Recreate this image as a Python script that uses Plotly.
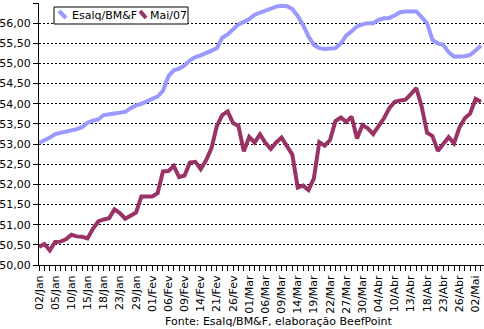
import plotly.graph_objects as go

# Trading days (BM&F) from 02/Jan to 03/Mai 2007
dates = [
    "02/Jan", "03/Jan", "04/Jan", "05/Jan", "08/Jan", "09/Jan", "10/Jan", "11/Jan", "12/Jan",
    "15/Jan", "16/Jan", "17/Jan", "18/Jan", "19/Jan", "22/Jan", "23/Jan", "24/Jan", "26/Jan",
    "29/Jan", "30/Jan", "31/Jan",
    "01/Fev", "02/Fev", "05/Fev", "06/Fev", "07/Fev", "08/Fev", "09/Fev", "12/Fev", "13/Fev",
    "14/Fev", "15/Fev", "16/Fev", "21/Fev", "22/Fev", "23/Fev", "26/Fev", "27/Fev", "28/Fev",
    "01/Mar", "02/Mar", "05/Mar", "06/Mar", "07/Mar", "08/Mar", "09/Mar", "12/Mar", "13/Mar",
    "14/Mar", "15/Mar", "16/Mar", "19/Mar", "20/Mar", "21/Mar", "22/Mar", "23/Mar", "26/Mar",
    "27/Mar", "28/Mar", "29/Mar", "30/Mar",
    "02/Abr", "03/Abr", "04/Abr", "05/Abr", "09/Abr", "10/Abr", "11/Abr", "12/Abr", "13/Abr",
    "16/Abr", "17/Abr", "18/Abr", "19/Abr", "20/Abr", "23/Abr", "24/Abr", "25/Abr", "26/Abr",
    "27/Abr", "30/Abr",
    "02/Mai", "03/Mai",
]

# Indicador Esalq/BM&F (R$/@)
esalq = [
    53.03, 53.09, 53.16, 53.25, 53.28, 53.30, 53.32, 53.37, 53.42, 53.53,
    53.58, 53.61, 53.72, 53.75, 53.76, 53.78, 53.80, 53.89, 53.96, 54.00,
    54.05, 54.12, 54.18, 54.32, 54.68, 54.83, 54.87, 54.95, 55.08, 55.16,
    55.20, 55.27, 55.32, 55.38, 55.64, 55.72, 55.85, 55.97, 56.03, 56.10,
    56.21, 56.26, 56.32, 56.37, 56.41, 56.43, 56.42, 56.35, 56.18, 55.95,
    55.67, 55.46, 55.38, 55.36, 55.36, 55.38, 55.50, 55.69, 55.80, 55.92,
    55.97, 56.00, 56.00, 56.08, 56.12, 56.13, 56.19, 56.27, 56.29, 56.29,
    56.29, 56.15, 56.00, 55.58, 55.50, 55.46, 55.28, 55.17, 55.17, 55.18,
    55.21, 55.33, 55.44,
]

# Contrato futuro Mai/07 (R$/@)
mai07 = [
    50.45, 50.52, 50.36, 50.57, 50.58, 50.64, 50.75, 50.71, 50.70, 50.66,
    50.90, 51.08, 51.13, 51.16, 51.38, 51.29, 51.15, 51.23, 51.30, 51.70,
    51.71, 51.70, 51.78, 52.32, 52.33, 52.46, 52.18, 52.22, 52.54, 52.56,
    52.38, 52.60, 52.90, 53.45, 53.72, 53.81, 53.52, 53.45, 52.82, 53.18,
    53.04, 53.24, 53.03, 52.88, 53.04, 53.16, 52.95, 52.74, 51.92, 51.97,
    51.86, 52.15, 53.05, 52.96, 53.10, 53.57, 53.66, 53.55, 53.68, 53.14,
    53.47, 53.39, 53.25, 53.45, 53.64, 53.89, 54.05, 54.08, 54.10, 54.24,
    54.39, 53.93, 53.28, 53.20, 52.83, 53.00, 53.17, 53.02, 53.41, 53.64,
    53.76, 54.12, 54.05,
]

series_names = ["Esalq/BM&F", "Mai/07"]
source_text = "Fonte: Esalq/BM&F, elaboração BeefPoint"

# every trading day gets a tick, every third one a label
tick_text = [d if k % 3 == 0 else "" for k, d in enumerate(dates)]

BLUE = "#9999FF"
PURPLE = "#993366"
FONT = "DejaVu Sans"

W, H = 484, 329
ML, MR, MT, MB = 39, 0, 3, 64
PW, PH = W - ML - MR, H - MT - MB


def px_x(px):
    return (px - ML) / PW


def px_y(py):
    return (H - MB - py) / PH


fig = go.Figure()
fig.add_trace(go.Scatter(x=dates, y=esalq, mode="lines", name=series_names[0],
                         line=dict(color=BLUE, width=4), showlegend=False))
fig.add_trace(go.Scatter(x=dates, y=mai07, mode="lines", name=series_names[1],
                         line=dict(color=PURPLE, width=4), showlegend=False))

shapes = [
    # legend box
    dict(type="rect", xref="paper", yref="paper",
         x0=px_x(54), x1=px_x(188), y0=px_y(24), y1=px_y(7),
         line=dict(color="black", width=1), fillcolor="white", layer="above"),
    dict(type="line", xref="paper", yref="paper",
         x0=px_x(59), x1=px_x(66), y0=px_y(11), y1=px_y(18),
         line=dict(color=BLUE, width=4), layer="above"),
    dict(type="line", xref="paper", yref="paper",
         x0=px_x(140), x1=px_x(146), y0=px_y(11), y1=px_y(18),
         line=dict(color=PURPLE, width=4), layer="above"),
]

annotations = [
    dict(text=series_names[0], xref="paper", yref="paper", x=px_x(70), y=px_y(15.5),
         xanchor="left", yanchor="middle", showarrow=False,
         font=dict(family=FONT, size=11, color="black")),
    dict(text=series_names[1], xref="paper", yref="paper", x=px_x(148), y=px_y(15.5),
         xanchor="left", yanchor="middle", showarrow=False,
         font=dict(family=FONT, size=11, color="black")),
    dict(text=source_text, xref="paper", yref="paper", x=px_x(279), y=px_y(321.5),
         xanchor="center", yanchor="middle", showarrow=False,
         font=dict(family=FONT, size=11, color="black")),
]

fig.update_layout(
    width=W, height=H,
    margin=dict(l=ML, r=MR, t=MT, b=MB, pad=0),
    paper_bgcolor="white", plot_bgcolor="white",
    separators=", ",
    font=dict(family=FONT, size=11, color="black"),
    shapes=shapes, annotations=annotations,
    xaxis=dict(
        type="category", range=[0, PW / 5.39],
        tickmode="array", tickvals=dates, ticktext=tick_text,
        tickangle=-90, ticks="outside", ticklen=5, tickcolor="black", tickwidth=1,
        showline=True, linecolor="black", linewidth=1,
        showgrid=False, zeroline=False,
        tickfont=dict(family=FONT, size=11, color="black"),
    ),
    yaxis=dict(
        range=[50, 56.5], dtick=0.5, tick0=50, tickformat=".2f",
        ticks="outside", ticklen=5, tickcolor="black", tickwidth=1,
        showline=True, linecolor="black", linewidth=1,
        showgrid=True, gridcolor="black", gridwidth=1, griddash="2px,2px",
        zeroline=False,
        tickfont=dict(family=FONT, size=11, color="black"),
    ),
)

fig.write_html("out.html")
